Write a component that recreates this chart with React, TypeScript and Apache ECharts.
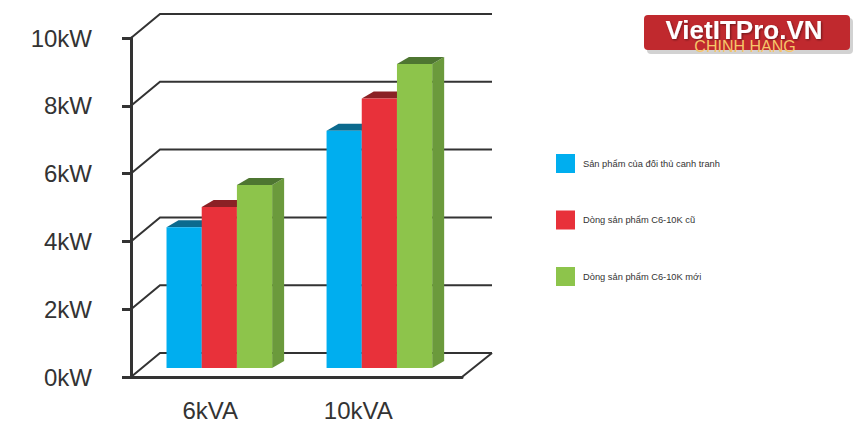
import React, { useEffect, useRef } from "react";
import * as echarts from "echarts";

const categories = ["6kVA", "10kVA"];
const seriesNames = [
  "Sản phẩm của đối thủ canh tranh",
  "Dòng sản phẩm C6-10K cũ",
  "Dòng sản phẩm C6-10K mới",
];
const competitorValues = [4.15, 7.0];
const oldLineValues = [4.75, 7.95];
const newLineValues = [5.4, 8.97];
const yTicks = [0, 2, 4, 6, 8, 10];
const yTickLabels = ["0kW", "2kW", "4kW", "6kW", "8kW", "10kW"];

const frontColors = ["#00AEEF", "#E8313A", "#8DC44B"];
const topColors = ["#0B6A8E", "#8A2125", "#4E7631"];
const sideColors = ["#0588BB", "#B2262C", "#6B9A3C"];

const FONT = "'Liberation Sans', Arial, sans-serif";

export default function App() {
  const ref = useRef<HTMLDivElement>(null);
  useEffect(() => {
    if (!ref.current) return;
    const chart = echarts.init(ref.current, null, { renderer: "svg" });

    const wallDX = 29;
    const wallDY = -24;
    const barDX = 12;
    const barDY = -7;
    const barShiftY = -9;

    const makeBarSeries = (si: number, values: number[]) => ({
      type: "custom",
      name: seriesNames[si],
      itemStyle: { color: frontColors[si] },
      data: values.map((v, i) => [i, v]),
      z: 3 + si,
      renderItem: (params: any, api: any) => {
        const cat = api.value(0);
        const val = api.value(1);
        const gx = params.coordSys.x;
        const top0 = api.coord([cat, val]);
        const base0 = api.coord([cat, 0]);
        const bandW = api.size([1, 0])[0];
        const barW = bandW * 0.2127;
        const groupCenter = gx + (top0[0] - gx) * 0.967 + 8.3;
        const x = groupCenter - 1.5 * barW + si * barW;
        const top = top0[1] + barShiftY;
        const bottom = base0[1] + barShiftY;
        return {
          type: "group",
          children: [
            {
              type: "polygon",
              shape: {
                points: [
                  [x + barW, top],
                  [x + barW + barDX, top + barDY],
                  [x + barW + barDX, bottom + barDY],
                  [x + barW, bottom],
                ],
              },
              style: { fill: sideColors[si] },
            },
            {
              type: "polygon",
              shape: {
                points: [
                  [x, top],
                  [x + barDX, top + barDY],
                  [x + barW + barDX, top + barDY],
                  [x + barW, top],
                ],
              },
              style: { fill: topColors[si] },
            },
            {
              type: "rect",
              shape: { x, y: top, width: barW, height: bottom - top },
              style: { fill: frontColors[si] },
            },
          ],
        };
      },
    });

    const option: any = {
      animation: false,
      backgroundColor: "#ffffff",
      grid: { left: 131, top: 38, width: 331, height: 339 },
      legend: {
        orient: "vertical",
        left: 556,
        top: 154,
        padding: 0,
        itemWidth: 19,
        itemHeight: 19,
        itemGap: 37.5,
        icon: "rect",
        selectedMode: false,
        data: seriesNames,
        textStyle: {
          fontFamily: FONT,
          fontSize: 9.3,
          color: "#333333",
          padding: [0, 0, 0, 3],
        },
      },
      xAxis: {
        type: "category",
        data: categories,
        axisLine: { lineStyle: { color: "#333333", width: 3 } },
        axisTick: { length: 8, lineStyle: { color: "#333333", width: 3 } },
        splitLine: { show: false },
        axisLabel: {
          margin: 21,
          formatter: (val: string, idx: number) =>
            idx === 0 ? `{a|${val}}` : `{b|${val}}`,
          rich: {
            a: { fontFamily: FONT, fontSize: 24, color: "#333333", padding: [0, 7, 0, 0] },
            b: { fontFamily: FONT, fontSize: 24, color: "#333333", padding: [0, 42, 0, 0] },
          },
        },
      },
      yAxis: {
        type: "value",
        min: 0,
        max: 10,
        interval: 2,
        axisLine: { show: true, lineStyle: { color: "#333333", width: 3 } },
        axisTick: { show: true, length: 9, lineStyle: { color: "#333333", width: 3 } },
        splitLine: { show: false },
        axisLabel: {
          margin: 39,
          fontFamily: FONT,
          fontSize: 24,
          color: "#333333",
          formatter: (v: number) => yTickLabels[yTicks.indexOf(v)] ?? `${v}kW`,
        },
      },
      series: [
        {
          type: "custom",
          name: "wall",
          silent: true,
          z: 1,
          data: yTicks.map((v) => [0, v]),
          renderItem: (params: any, api: any) => {
            const v = api.value(1);
            const gx = params.coordSys.x;
            const gw = params.coordSys.width;
            const p = api.coord([0, v]);
            const y = p[1];
            const children: any[] = [
              {
                type: "polyline",
                shape: {
                  points: [
                    [gx, y],
                    [gx + wallDX, y + wallDY],
                    [gx + gw + wallDX + 1, y + wallDY],
                  ],
                },
                style: { stroke: "#333333", lineWidth: 2, fill: "none" },
              },
            ];
            if (v === 0) {
              children.push({
                type: "line",
                shape: { x1: gx + gw, y1: y, x2: gx + gw + wallDX + 1, y2: y + wallDY },
                style: { stroke: "#333333", lineWidth: 2 },
              });
            }
            return { type: "group", children };
          },
        },
        makeBarSeries(0, competitorValues),
        makeBarSeries(1, oldLineValues),
        makeBarSeries(2, newLineValues),
      ],
      graphic: [
        {
          type: "rect",
          left: 647,
          top: 18,
          shape: { width: 206, height: 36, r: 4 },
          style: { fill: "#d2d2d2" },
          z: 10,
        },
        {
          type: "rect",
          left: 644,
          top: 15,
          shape: { width: 206, height: 35, r: 4 },
          style: { fill: "#C0292E" },
          z: 11,
        },
        {
          type: "text",
          x: 744,
          y: 30,
          z: 12,
          style: {
            text: "VietITPro.VN",
            fontFamily: FONT,
            fontWeight: "bold",
            fontSize: 26,
            lineHeight: 20,
            fill: "#ffffff",
            align: "center",
            verticalAlign: "middle",
            textShadowColor: "rgba(0,0,0,0.45)",
            textShadowBlur: 2,
            textShadowOffsetX: 1,
            textShadowOffsetY: 1,
          },
        },
        {
          type: "text",
          x: 745,
          y: 46.5,
          z: 13,
          style: {
            text: "CHINH HANG",
            fontFamily: FONT,
            fontSize: 16,
            lineHeight: 12,
            fill: "#F6C66A",
            align: "center",
            verticalAlign: "middle",
          },
        },
      ],
    };

    chart.setOption(option);
    return () => chart.dispose();
  }, []);

  return (
    <div
      ref={ref}
      style={{ position: "fixed", left: 0, top: 0, width: 860, height: 431, background: "#fff" }}
    />
  );
}
